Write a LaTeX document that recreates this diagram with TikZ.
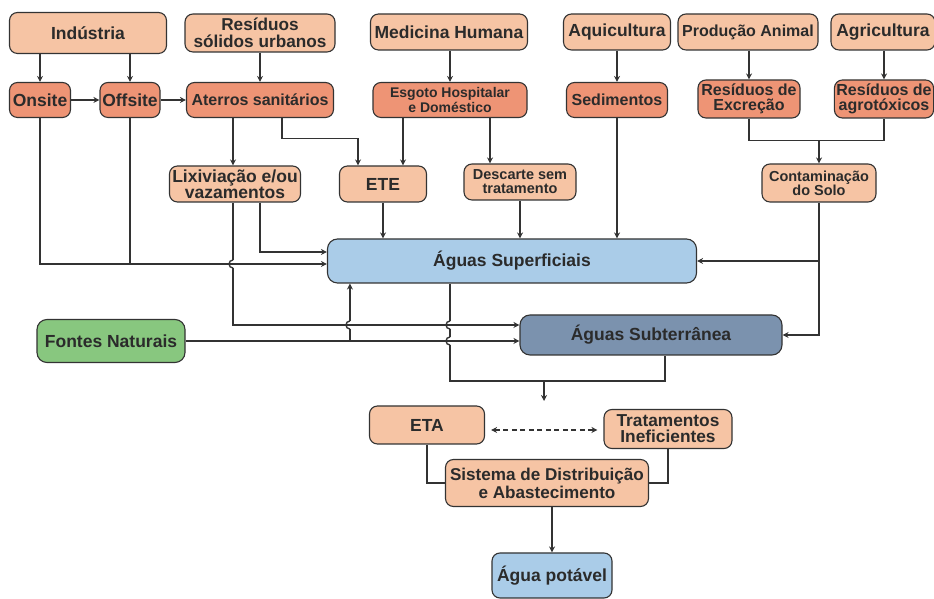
\documentclass[tikz,border=0pt]{standalone}
\usepackage{fontspec}
\setmainfont{Liberation Sans}
\usetikzlibrary{arrows.meta}
\definecolor{ink}{HTML}{2B2B2B}
\definecolor{edge}{HTML}{333333}
\definecolor{peachA}{HTML}{F6C4A4}
\definecolor{salmonA}{HTML}{EE9475}
\definecolor{skyA}{HTML}{AACCE8}
\definecolor{slateA}{HTML}{7B92AE}
\definecolor{leafA}{HTML}{88C77F}
\tikzset{
  box/.style={rounded corners=8pt, draw=edge, line width=1.1pt, inner sep=2pt, align=center, text=ink, font=\bfseries\fontsize{17.5}{18}\selectfont},
  peachbox/.style={box, fill=peachA},
  salmonbox/.style={box, fill=salmonA},
  skybox/.style={box, fill=skyA},
  slatebox/.style={box, fill=slateA},
  leafbox/.style={box, fill=leafA},
  midfont/.style={font=\bfseries\fontsize{16}{15}\selectfont},
  smallfont/.style={font=\bfseries\fontsize{14.5}{14}\selectfont},
  wire/.style={draw=edge, line width=1.4pt},
  flow/.style={wire, -{Stealth[length=6pt,width=6pt]}},
  twoway/.style={wire, line width=1.7pt, dash pattern=on 5pt off 3.5pt, {Stealth[length=6pt,width=6pt]}-{Stealth[length=6pt,width=6pt]}, shorten <=6pt, shorten >=6pt}
}

\begin{document}
\begin{tikzpicture}[x=1pt,y=1pt]
\useasboundingbox (0,0) rectangle (934,599);

\node[peachbox, minimum width=157pt, minimum height=41pt] (ind) at (88,566) {Indústria};
\node[peachbox, font=\bfseries\fontsize{17.2}{17}\selectfont, minimum width=150pt, minimum height=38pt] (rsu) at (260,566) {Resíduos\\sólidos urbanos};
\node[peachbox, minimum width=157pt, minimum height=36pt] (med) at (449,567) {Medicina Humana};
\node[peachbox, minimum width=107pt, minimum height=36pt] (aqui) at (617,567) {Aquicultura};
\node[peachbox, midfont, minimum width=140pt, minimum height=36pt] (prod) at (748,567) {Produção Animal};
\node[peachbox, minimum width=104pt, minimum height=36pt] (agri) at (883,567) {Agricultura};

\node[salmonbox, minimum width=61pt, minimum height=35pt] (onsite) at (40,499) {Onsite};
\node[salmonbox, minimum width=60pt, minimum height=35pt] (offsite) at (130,499) {Offsite};
\node[salmonbox, midfont, minimum width=147pt, minimum height=35pt] (aterro) at (260,499) {Aterros sanitários};
\node[salmonbox, font=\bfseries\fontsize{14}{15}\selectfont, minimum width=154pt, minimum height=35pt] (esgoto) at (450,499) {Esgoto Hospitalar\\e Doméstico};
\node[salmonbox, midfont, minimum width=101pt, minimum height=35pt] (sed) at (617,499) {Sedimentos};
\node[salmonbox, midfont, minimum width=102pt, minimum height=38pt] (excr) at (749,500) {Resíduos de\\Excreção};
\node[salmonbox, midfont, minimum width=98pt, minimum height=38pt] (agro) at (884,500) {Resíduos de\\agrotóxicos};

\node[peachbox, font=\bfseries\fontsize{17.5}{14.5}\selectfont, minimum width=131pt, minimum height=36pt] (lix) at (235,415) {Lixiviação e/ou\\vazamentos};
\node[peachbox, minimum width=87pt, minimum height=36pt] (ete) at (383,415) {ETE};
\node[peachbox, smallfont, minimum width=112pt, minimum height=36pt] (desc) at (520,417) {Descarte sem\\tratamento};
\node[peachbox, smallfont, minimum width=114pt, minimum height=38pt] (solo) at (819,416) {Contaminação\\do Solo};

\node[skybox, rounded corners=10pt, minimum width=369pt, minimum height=44pt] (sup) at (512,338) {Águas Superficiais};
\node[leafbox, rounded corners=10pt, minimum width=148pt, minimum height=43pt] (fontes) at (111,258) {Fontes Naturais};
\node[slatebox, rounded corners=10pt, minimum width=262pt, minimum height=40pt] (sub) at (651,264) {Águas Subterrânea};

\node[peachbox, minimum width=115pt, minimum height=38pt] (eta) at (427,174) {ETA};
\node[peachbox, font=\bfseries\fontsize{17.3}{16}\selectfont, minimum width=128pt, minimum height=39pt] (trat) at (668,170) {Tratamentos\\Ineficientes};
\node[peachbox, font=\bfseries\fontsize{17.1}{18}\selectfont, minimum width=203pt, minimum height=47pt] (sist) at (547,116) {Sistema de Distribuição\\e Abastecimento};
\node[skybox, minimum width=120pt, minimum height=45pt] (pot) at (552,23.5) {Água potável};

\coordinate (j1) at ([yshift=-3pt]sup.west);
\coordinate (j2) at ([yshift=9pt]sup.west);
\coordinate (j3) at ([yshift=10pt]sub.west);
\coordinate (lxa) at ([xshift=-2pt]lix.south);
\coordinate (lxb) at ([xshift=25pt]lix.south);
\coordinate (ea) at ([xshift=-47pt]esgoto.south);
\coordinate (eb) at ([xshift=40pt]esgoto.south);
\coordinate (rs) at ([xshift=23pt]sup.south west);
\coordinate (sd) at ([xshift=-62pt]sup.south);
\coordinate (sbd) at ([xshift=14pt]sub.south);
\coordinate (mrg) at (544,218);
\coordinate (mrgend) at (544,198);
\coordinate (jn) at ([yshift=-22pt]excr.south);
\coordinate (de) at ([yshift=-5pt]eta.east);
\coordinate (h1) at (lxa |- j1);
\coordinate (h2) at (rs |- j3);
\coordinate (h3) at (sd |- j3);
\coordinate (h4) at (sd |- fontes.east);

\draw[flow] (ind.south -| onsite.north) -- (onsite.north);
\draw[flow] (ind.south -| offsite.north) -- (offsite.north);
\draw[flow] (rsu.south) -- (aterro.north);
\draw[flow] (med.south -| esgoto.north) -- (esgoto.north);
\draw[flow] (aqui.south) -- (sed.north);
\draw[flow] (prod.south -| excr.north) -- (excr.north);
\draw[flow] (agri.south -| agro.north) -- (agro.north);
\draw[flow] (onsite.east) -- (offsite.west);
\draw[flow] (offsite.east) -- (aterro.west);

\draw[flow] (aterro.south -| lxa) -- (lix.north -| lxa);
\draw[flow] ([xshift=22pt]aterro.south) -- ++(0,-20.5) -| ([xshift=-25pt]ete.north);
\draw[flow] (ea) -- (ea |- ete.north);
\draw[flow] (eb) -- (eb |- desc.north);
\draw[wire] (excr.south) -- (jn) -| (agro.south);
\draw[flow] (jn -| solo.north) -- (solo.north);

\draw[flow] (onsite.south) |- (j1);
\draw[wire] (offsite.south) -- (offsite.south |- j1);
\draw[wire] (lxa) -- ([yshift=4pt]h1);
\draw[wire] ([yshift=4pt]h1) arc[start angle=90, end angle=270, radius=4pt];
\draw[flow] ([yshift=-4pt]h1) |- (j3);
\draw[flow] (lxb) |- (j2);
\draw[flow] (ete.south) -- (ete.south |- sup.north);
\draw[flow] (desc.south) -- (desc.south |- sup.north);
\draw[flow] (sed.south) -- (sed.south |- sup.north);
\draw[flow] (solo.south) |- (sup.east);
\draw[flow] (solo.south |- sup.east) |- (sub.east);

\draw[flow] (fontes.east) -- (fontes.east -| sub.west);
\draw[wire] (rs |- fontes.east) -- ([yshift=-4pt]h2);
\draw[wire] ([yshift=-4pt]h2) arc[start angle=270, end angle=90, radius=4pt];
\draw[flow] ([yshift=4pt]h2) -- (rs);
\draw[wire] (sd) -- ([yshift=4pt]h3);
\draw[wire] ([yshift=4pt]h3) arc[start angle=90, end angle=270, radius=4pt];
\draw[wire] ([yshift=-4pt]h3) -- ([yshift=4pt]h4);
\draw[wire] ([yshift=4pt]h4) arc[start angle=90, end angle=270, radius=4pt];
\draw[wire] ([yshift=-4pt]h4) |- (mrg) -| (sbd);
\draw[flow] (mrg) -- (mrgend);

\draw[twoway] (de) -- (de -| trat.west);
\draw[wire] (eta.south) |- (sist.west);
\draw[wire] (trat.south) |- (sist.east);
\draw[flow] (sist.south -| pot.north) -- (pot.north);

\end{tikzpicture}
\end{document}
